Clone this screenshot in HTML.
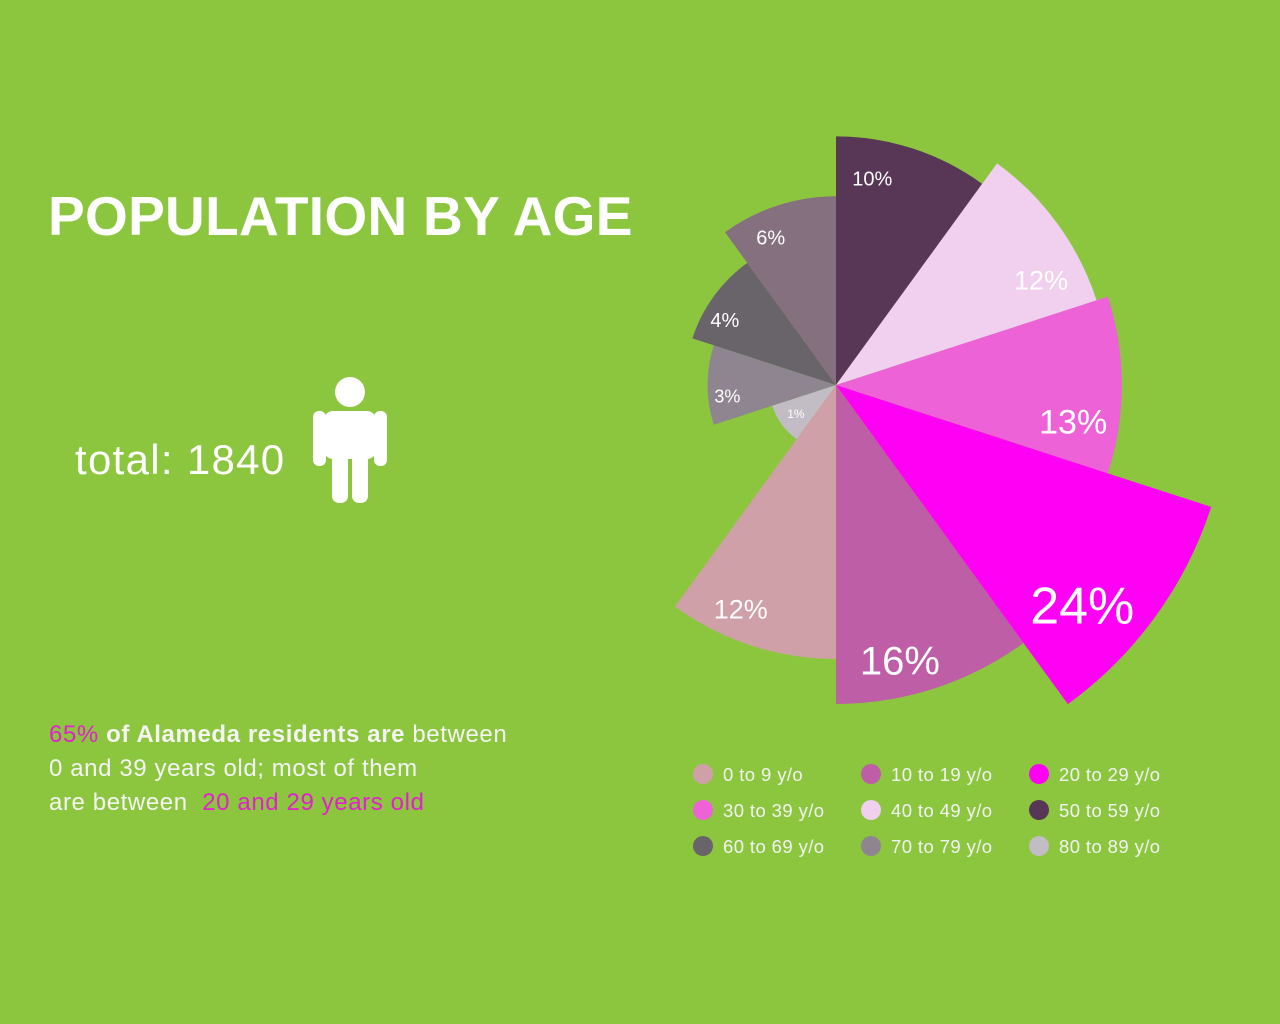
<!DOCTYPE html>
<html><head><meta charset="utf-8"><style>
html,body{margin:0;padding:0;}
body{width:1280px;height:1024px;background:#8cc63f;position:relative;overflow:hidden;font-family:"Liberation Sans",sans-serif;color:#fff;}
.abs{position:absolute;white-space:nowrap;}
</style></head><body>
<div class="abs" style="left:48px;top:184px;font-size:55px;font-weight:bold;letter-spacing:0.3px;">POPULATION BY AGE</div>
<div class="abs" style="left:75px;top:436px;font-size:42px;font-weight:300;letter-spacing:1.3px;">total: 1840</div>
<svg class="abs" style="left:312px;top:376px" width="76" height="128" viewBox="0 0 76 128">
<circle cx="38" cy="16" r="15" fill="#fff"/>
<rect x="12" y="35" width="52" height="48" rx="9" fill="#fff"/>
<rect x="1" y="35" width="13" height="55" rx="6" fill="#fff"/>
<rect x="62" y="35" width="13" height="55" rx="6" fill="#fff"/>
<rect x="20" y="60" width="16" height="67" rx="7" fill="#fff"/>
<rect x="40" y="60" width="16" height="67" rx="7" fill="#fff"/>
</svg>
<div class="abs" style="left:49px;top:718px;font-size:24px;line-height:34px;color:#f4f4f4;font-weight:normal;letter-spacing:0.6px;">
<span style="color:#e51ed0">65%</span> <span style="font-weight:bold">of Alameda residents are</span> between<br>0 and 39 years old; most of them<br>are between &nbsp;<span style="color:#e51ed0">20 and 29 years old</span></div>
<svg id="chart" class="abs" style="left:0;top:0" width="1280" height="1024"></svg>
<div id="legend"></div>
<script>
const categories=["50 to 59 y/o","40 to 49 y/o","30 to 39 y/o","20 to 29 y/o","10 to 19 y/o","0 to 9 y/o","80 to 89 y/o","70 to 79 y/o","60 to 69 y/o","90+ y/o"];
const values=[10,12,13,24,16,12,1,3,4,6];
const colors=["#573656","#f0d0ee","#ee62d8","#ff00f5","#bd5ea6","#d0a0a8","#c2bcc4","#8f8590","#69636a","#85707f"];
const legendItems=["0 to 9 y/o","10 to 19 y/o","20 to 29 y/o","30 to 39 y/o","40 to 49 y/o","50 to 59 y/o","60 to 69 y/o","70 to 79 y/o","80 to 89 y/o"];
const legendColors=["#d0a0a8","#bd5ea6","#ff00f5","#ee62d8","#f0d0ee","#573656","#69636a","#8f8590","#c2bcc4"];
const cx=836,cy=385;
function rScale(v){return 84*Math.sqrt(v)-17;}
function aScale(i){return i*2*Math.PI/values.length;}
function pt(a,r){return [cx+r*Math.sin(a),cy-r*Math.cos(a)];}
const svg=document.getElementById('chart');
const NS="http://www.w3.org/2000/svg";
values.forEach((v,i)=>{
  const r=rScale(v),a0=aScale(i),a1=aScale(i+1);
  const p0=pt(a0,r),p1=pt(a1,r);
  const path=document.createElementNS(NS,'path');
  path.setAttribute('d',`M${cx},${cy}L${p0[0]},${p0[1]}A${r},${r} 0 0 1 ${p1[0]},${p1[1]}Z`);
  path.setAttribute('fill',colors[i]);
  
  
  svg.appendChild(path);
  const fs=v>=24?52:v>=16?40:v>=13?34:v>=12?27:v>=4?20:v>=3?18:12;
  let offDeg,rf;
  if(i===0){offDeg=-8;rf=0.84;}
  else if(i<=2){offDeg=9;rf=0.84;}
  else if(i===3){offDeg=6;rf=0.84;}
  else if(i<=5){offDeg=5;rf=0.89;}
  else if(v<=1){offDeg=0;rf=0.74;}
  else {offDeg=-6;rf=0.85;}
  const lp=pt((a0+a1)/2+offDeg*Math.PI/180,r*rf);
  const t=document.createElementNS(NS,'text');
  t.setAttribute('x',lp[0]);t.setAttribute('y',lp[1]);
  t.setAttribute('fill','#fff');t.setAttribute('font-size',fs);
  t.setAttribute('text-anchor','middle');t.setAttribute('dominant-baseline','central');
  t.setAttribute('font-family','Liberation Sans, sans-serif');
  
  
  t.textContent=v+'%';
  svg.appendChild(t);
});
const lg=document.getElementById('legend');
legendItems.forEach((name,i)=>{
  const col=i%3,row=Math.floor(i/3);
  const d=document.createElement('div');
  d.className='abs';
  d.style.left=(693+col*168)+'px';d.style.top=(764+row*36)+'px';
  d.style.fontSize='18.5px';d.style.color='#f2f2f2';d.style.lineHeight='22px';d.style.letterSpacing='0.4px';
  
  
  d.innerHTML=`<span style="display:inline-block;width:20px;height:20px;border-radius:50%;background:${legendColors[i]};vertical-align:middle;margin-right:10px;position:relative;top:-2px"></span>${name}`;
  lg.appendChild(d);
});
</script>
</body></html>
